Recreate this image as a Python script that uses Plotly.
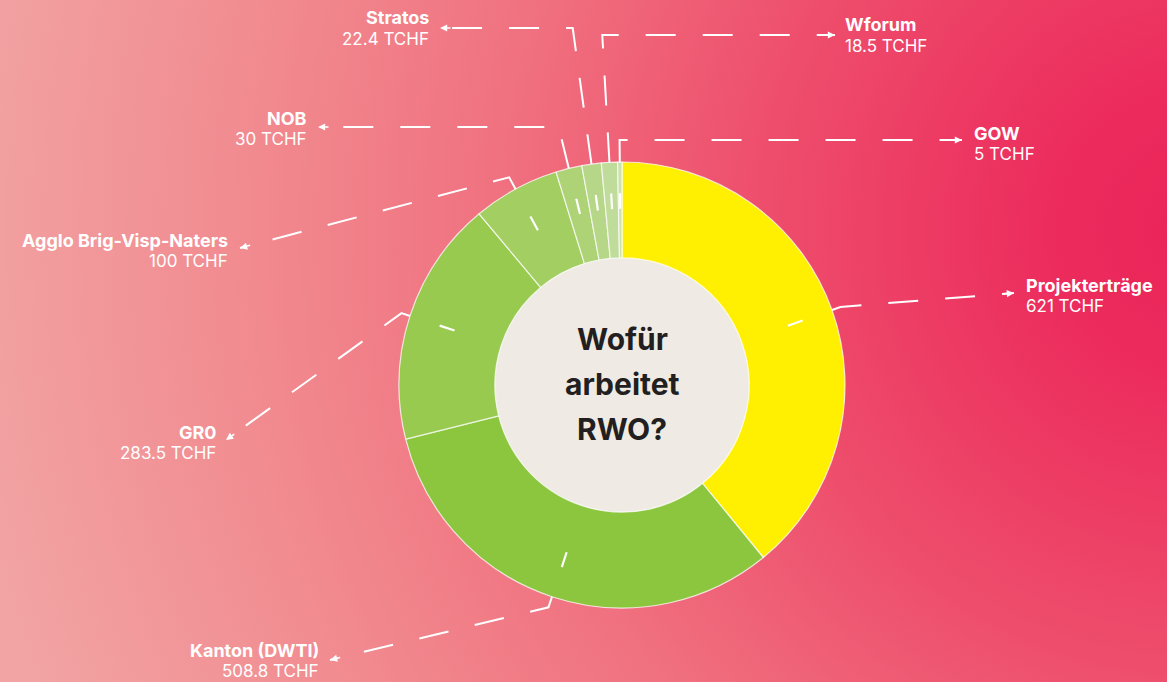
import base64
import math
import plotly.graph_objects as go

W, H = 1167, 682

# ---- data ----
labels = ["Projekterträge", "Kanton (DWTI)", "GR0", "Agglo Brig-Visp-Naters",
          "NOB", "Stratos", "Wforum", "GOW"]
values = [621, 508.8, 283.5, 100, 30, 22.4, 18.5, 5]
unit = "TCHF"
title_lines = ["Wofür", "arbeitet", "RWO?"]

# ---- styles ----
colors = ["#FFEF00", "#8CC63F", "#97CA4F", "#A3CF62",
          "#ADD376", "#B6D788", "#C0DC9A", "#CBE2AE"]
FONT = "Inter"

# pie geometry (pixels)
CX, CY, R = 622, 385, 223
HOLE = 0.57

# label layout: side, text anchor x, y of first line; leader routing
label_layout = {
    "Projekterträge": dict(anchor="left", tx=1024, ty=285, mode="slant", k=1.04, end=(1014, 293)),
    "Kanton (DWTI)": dict(anchor="right", tx=321, ty=650, mode="slant", k=1.05, end=(330, 660)),
    "GR0": dict(anchor="right", tx=218, ty=432, mode="slant", k=1.04, end=(226, 440)),
    "Agglo Brig-Visp-Naters": dict(anchor="right", tx=230, ty=240, mode="slant", k=1.06, end=(240, 248)),
    "NOB": dict(anchor="right", tx=309, ty=118, mode="horiz", yline=127, xend=318),
    "Stratos": dict(anchor="right", tx=431, ty=18, mode="horiz", yline=28, xend=440),
    "Wforum": dict(anchor="left", tx=843, ty=25, mode="horiz", yline=35, xend=835),
    "GOW": dict(anchor="left", tx=972, ty=133, mode="horiz", yline=140, xend=962),
}
LINE_GAP = 21


def px(x):
    return x / W


def py(y):
    return 1 - y / H


def polar(angle_deg, r):
    a = math.radians(angle_deg)
    return CX + r * math.sin(a), CY - r * math.cos(a)


# background gradient as svg image
svg = f'''<svg xmlns="http://www.w3.org/2000/svg" width="{W}" height="{H}" viewBox="0 0 {W} {H}" preserveAspectRatio="none">
<defs>
<radialGradient id="g" gradientUnits="userSpaceOnUse" cx="1200" cy="230" r="1260" fx="1200" fy="230">
<stop offset="0" stop-color="#EB2358"/>
<stop offset="0.12" stop-color="#EC2C5D"/>
<stop offset="0.35" stop-color="#EE4E6C"/>
<stop offset="0.55" stop-color="#F0707F"/>
<stop offset="0.75" stop-color="#F18A8F"/>
<stop offset="1" stop-color="#F2A4A4"/>
</radialGradient>
</defs>
<rect x="0" y="0" width="{W}" height="{H}" fill="url(#g)"/>
</svg>'''
bg_src = "data:image/svg+xml;base64," + base64.b64encode(svg.encode()).decode()

fig = go.Figure()
fig.add_trace(go.Pie(
    labels=labels, values=values, sort=False, direction="clockwise", rotation=0,
    hole=HOLE, textinfo="none", hoverinfo="label+value",
    marker=dict(colors=colors, line=dict(color="rgba(255,255,255,0.75)", width=1.2)),
    domain=dict(x=[px(CX - R), px(CX + R)], y=[py(CY + R), py(CY - R)]),
    showlegend=False,
))

shapes = []
annotations = []

# hole fill
hr = R * HOLE + 4
shapes.append(dict(type="circle", xref="paper", yref="paper", layer="below",
                   x0=px(CX - hr), x1=px(CX + hr), y0=py(CY + hr), y1=py(CY - hr),
                   fillcolor="#EFEBE4", line=dict(width=0)))

total = sum(values)
cum = 0.0
for lab, val in zip(labels, values):
    mid = (cum + val / 2) / total * 360.0
    cum += val
    L = label_layout[lab]
    # inner tick
    x0, y0 = polar(mid, R * 0.79)
    x1, y1 = polar(mid, R * 0.86)
    shapes.append(dict(type="line", xref="paper", yref="paper", layer="above",
                       x0=px(x0), y0=py(y0), x1=px(x1), y1=py(y1),
                       line=dict(color="white", width=2.2)))
    # leader
    ex, ey = polar(mid, R * 1.0)
    if L["mode"] == "slant":
        bx, by = polar(mid, R * L["k"])
        tx_, ty_ = L["end"]
    else:
        a = math.radians(mid)
        r_need = (CY - L["yline"]) / math.cos(a)
        bx, by = polar(mid, r_need)
        tx_, ty_ = L["xend"], L["yline"]
    path = f"M{px(ex)},{py(ey)} L{px(bx)},{py(by)} L{px(tx_)},{py(ty_)}"
    shapes.append(dict(type="path", xref="paper", yref="paper", layer="above", path=path,
                       line=dict(color="white", width=2, dash="30px,27px")))
    # arrowhead
    dx, dy = tx_ - bx, ty_ - by
    dl = math.hypot(dx, dy)
    annotations.append(dict(x=px(tx_), y=py(ty_), xref="paper", yref="paper", text="",
                            showarrow=True, arrowhead=2, arrowsize=0.9, arrowwidth=1.6,
                            arrowcolor="white", ax=-dx / dl * 12, ay=-dy / dl * 12,
                            axref="pixel", ayref="pixel"))
    # label texts
    anchor = L["anchor"]
    annotations.append(dict(x=px(L["tx"]), y=py(L["ty"]), xref="paper", yref="paper",
                            text=lab, showarrow=False, xanchor=anchor, yanchor="middle",
                            font=dict(family=FONT, size=18, color="white", weight=700)))
    annotations.append(dict(x=px(L["tx"]), y=py(L["ty"] + LINE_GAP), xref="paper", yref="paper",
                            text=f"{val:g} {unit}", showarrow=False, xanchor=anchor, yanchor="middle",
                            font=dict(family=FONT, size=17, color="white", weight=400)))

# center title
for i, t in enumerate(title_lines):
    annotations.append(dict(x=px(CX), y=py(CY - 46 + i * 45), xref="paper", yref="paper",
                            text=t, showarrow=False, xanchor="center", yanchor="middle",
                            font=dict(family=FONT, size=30, color="#231F20", weight=700)))

fig.update_layout(
    width=W, height=H, margin=dict(l=0, r=0, t=0, b=0),
    paper_bgcolor="#F07080", plot_bgcolor="rgba(0,0,0,0)",
    images=[dict(source=bg_src, xref="paper", yref="paper", x=0, y=1, sizex=1, sizey=1,
                 xanchor="left", yanchor="top", sizing="stretch", layer="below")],
    shapes=shapes, annotations=annotations,
)

fig.write_html("out.html", config={"displayModeBar": False},
               post_script="document.body.style.margin='0';document.body.style.padding='0';")
